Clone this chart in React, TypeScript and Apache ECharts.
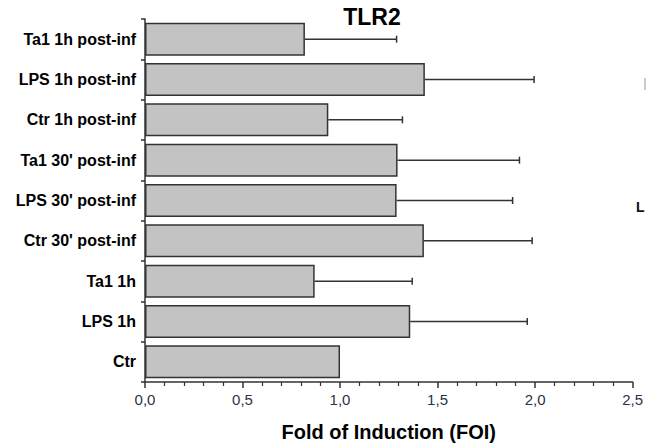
import React, { useEffect, useRef } from "react";
import * as echarts from "echarts";

const categories = [
  "Ctr",
  "LPS 1h",
  "Ta1 1h",
  "Ctr 30' post-inf",
  "LPS 30' post-inf",
  "Ta1 30' post-inf",
  "Ctr 1h post-inf",
  "LPS 1h post-inf",
  "Ta1 1h post-inf",
];
const foiValues = [1.0, 1.36, 0.87, 1.43, 1.29, 1.295, 0.94, 1.435, 0.82];
const errorEnds: (number | null)[] = [null, 1.96, 1.37, 1.985, 1.885, 1.92, 1.32, 1.995, 1.29];
const titleText = "TLR2";
const xAxisName = "Fold of Induction (FOI)";

export default function App() {
  const ref = useRef<HTMLDivElement>(null);
  useEffect(() => {
    if (!ref.current) return;
    const chart = echarts.init(ref.current, null, { renderer: "svg" });
    const errData = foiValues
      .map((v, i) => (errorEnds[i] == null ? null : [v, i, errorEnds[i]]))
      .filter((d) => d !== null);
    chart.setOption({
      animation: false,
      backgroundColor: "#ffffff",
      textStyle: { fontFamily: "Liberation Sans, Arial, sans-serif" },
      grid: { left: 145, right: 12, top: 19, bottom: 64, containLabel: false },
      graphic: [
        {
          type: "text",
          x: 372,
          y: 5,
          style: {
            text: titleText,
            font: "bold 23px 'Liberation Sans', Arial, sans-serif",
            fill: "#000",
            align: "center",
            verticalAlign: "top",
          },
        },
        {
          type: "text",
          x: 636,
          y: 200,
          style: {
            text: "L",
            font: "bold 14px 'Liberation Sans', Arial, sans-serif",
            fill: "#111",
            verticalAlign: "top",
          },
        },
        {
          type: "rect",
          shape: { x: 644, y: 78, width: 2, height: 12 },
          style: { fill: "#cfc8c8" },
        },
      ],
      xAxis: {
        type: "value",
        min: 0,
        max: 2.5,
        interval: 0.5,
        name: xAxisName,
        nameLocation: "middle",
        nameGap: 40,
        nameTextStyle: {
          fontSize: 20,
          fontWeight: "bold",
          color: "#000",
          fontFamily: "Liberation Sans, Arial, sans-serif",
        },
        axisLine: { show: true, lineStyle: { color: "#333", width: 1.5 } },
        axisTick: { show: true, length: 6, lineStyle: { color: "#333", width: 1.5 } },
        minorTick: { show: true, splitNumber: 5, length: 4, lineStyle: { color: "#333", width: 1.2 } },
        splitLine: { show: false },
        minorSplitLine: { show: false },
        axisLabel: {
          fontSize: 15,
          color: "#2b3346",
          margin: 10,
          formatter: (v: number) => v.toFixed(1).replace(".", ","),
        },
      },
      yAxis: {
        type: "category",
        data: categories,
        axisLine: { show: true, lineStyle: { color: "#333", width: 1.5 } },
        axisTick: { show: true, length: 4, lineStyle: { color: "#333", width: 1.5 } },
        axisLabel: {
          fontSize: 16,
          fontWeight: "bold",
          color: "#000",
          margin: 9,
        },
      },
      series: [
        {
          type: "bar",
          data: foiValues,
          barCategoryGap: "18%",
          itemStyle: { color: "#c3c3c3", borderColor: "#333", borderWidth: 1.5 },
        },
        {
          type: "custom",
          data: errData,
          z: 1,
          renderItem: (params: any, api: any) => {
            const idx = api.value(1);
            const start = api.coord([api.value(0), idx]);
            const end = api.coord([api.value(2), idx]);
            const cap = 3.5;
            const style = { stroke: "#333", lineWidth: 1.5 };
            return {
              type: "group",
              children: [
                { type: "line", shape: { x1: start[0], y1: start[1], x2: end[0], y2: end[1] }, style },
                { type: "line", shape: { x1: end[0], y1: end[1] - cap, x2: end[0], y2: end[1] + cap }, style },
              ],
            };
          },
        },
      ],
    });
    return () => chart.dispose();
  }, []);
  return (
    <div
      ref={ref}
      style={{ position: "fixed", left: 0, top: 0, width: 646, height: 447 }}
    />
  );
}
